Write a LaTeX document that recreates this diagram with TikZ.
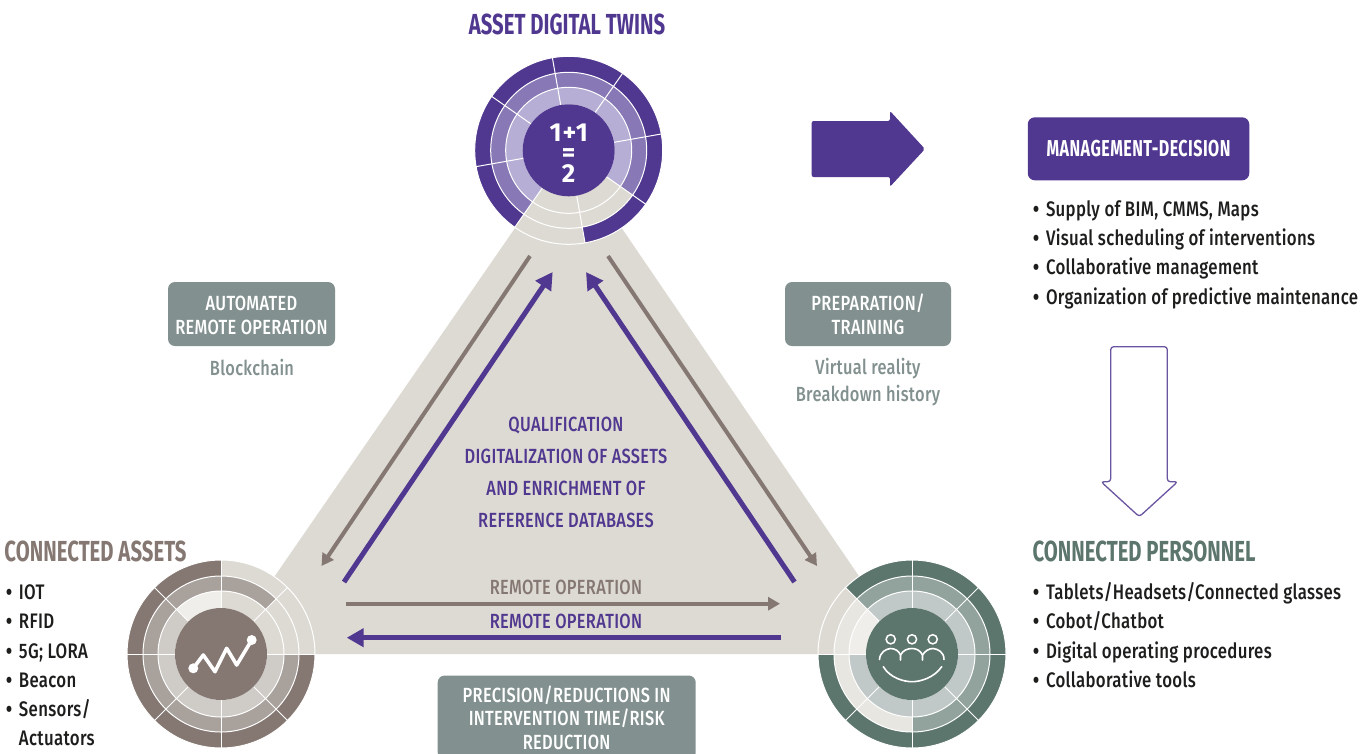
\documentclass[tikz,border=0pt]{standalone}
\usepackage{fontspec}
\setmainfont[FakeStretch=0.8,LetterSpace=1.5,UprightFont={* Medium}]{Fira Sans}
\newfontfamily\headf[FakeStretch=0.7,LetterSpace=0.1]{Fira Sans}
\newfontfamily\mgmtf[FakeStretch=0.7,LetterSpace=2]{Fira Sans}
\newfontfamily\sumf[LetterSpace=4]{Fira Sans}
\usetikzlibrary{arrows.meta}
\definecolor{purp}{HTML}{50378F}
\definecolor{purpM}{HTML}{8878B5}
\definecolor{purpL}{HTML}{B6AED5}
\definecolor{beige}{HTML}{DDDAD3}
\definecolor{taup}{HTML}{857872}
\definecolor{taupM}{HTML}{A9A19C}
\definecolor{taupL}{HTML}{CFCBC7}
\definecolor{paleA}{HTML}{EFEEEA}
\definecolor{paleB}{HTML}{E8E6E1}
\definecolor{gren}{HTML}{5C766D}
\definecolor{grenM}{HTML}{91A39C}
\definecolor{grenL}{HTML}{C1C9C8}
\definecolor{slate}{HTML}{82918F}
\definecolor{ink}{HTML}{1D1D1B}
\tikzset{
  x=1pt,y=-1pt,
  txt/.style={inner sep=0pt,outer sep=0pt,align=center,font=\fontsize{20.5}{#1}\selectfont},
  txt/.default=32,
  head/.style={inner sep=0pt,outer sep=0pt,font=\headf\fontsize{29}{30}\selectfont\bfseries},
  item/.style={inner sep=0pt,outer sep=0pt,anchor=base west,text=ink,font=\fontsize{21}{24}\selectfont},
  dotmark/.style={inner sep=0pt,outer sep=0pt,anchor=base west,text=ink,font=\fontsize{21}{24}\selectfont\bfseries},
  greybox/.style={fill=slate,rounded corners=7pt,inner sep=0pt,text=white,align=center,font=\fontsize{20.5}{23.5}\selectfont},
  thinarrow/.style={draw=taup,line width=4pt,-{Triangle[length=12pt,width=13pt]}},
  boldarrow/.style={draw=purp,line width=5pt,-{Triangle[length=17pt,width=18pt]}},
  sep/.style={draw=white,line width=1pt},
}
% ring set: centre, rotation offset, list of sector colours
\newcommand{\ringset}[4]{%
  \begin{scope}[shift={(#1,#2)},y=1pt]
    \foreach \k/\co/\cm/\ci [count=\n from 0] in {#4}{
      \pgfmathsetmacro{\aa}{#3+45*\n}
      \pgfmathsetmacro{\ab}{#3+45*\n+45}
      \fill[\co] (\aa:94) arc[start angle=\aa,end angle=\ab,radius=94] -- (\ab:78) arc[start angle=\ab,end angle=\aa,radius=78] -- cycle;
      \fill[\cm] (\aa:78) arc[start angle=\aa,end angle=\ab,radius=78] -- (\ab:63) arc[start angle=\ab,end angle=\aa,radius=63] -- cycle;
      \fill[\ci] (\aa:63) arc[start angle=\aa,end angle=\ab,radius=63] -- (\ab:46) arc[start angle=\ab,end angle=\aa,radius=46] -- cycle;
    }
    \foreach \n in {0,...,7}{
      \pgfmathsetmacro{\aa}{#3+45*\n}
      \draw[sep] (\aa:46) -- (\aa:94);
    }
    \draw[sep] (0,0) circle[radius=63];
    \draw[sep] (0,0) circle[radius=78];
    \draw[sep] (0,0) circle[radius=94];
  \end{scope}}
\begin{document}
\begin{tikzpicture}
\useasboundingbox (0,0) rectangle (1371,753);
\coordinate (topc) at (568.7,150.3);
\coordinate (leftc) at (221,654);
\coordinate (rightc) at (912,654);
% triangle
\fill[beige] (topc) -- (rightc) -- (leftc) -- cycle;
% rings
\ringset{568.7}{150.3}{10}{a/purp/purpM/purpL,b/purp/purpM/purpL,c/purp/purpM/purpL,d/purp/purpM/purpL,e/purp/purpM/purpL,f/beige/beige/beige,g/purp/beige/beige,h/purp/purpM/purpL}
\ringset{221}{654}{0}{a/beige/beige/beige,b/beige/taupM/beige,c/taup/taupM/paleA,d/taup/taupM/taupL,e/taup/taupM/taupL,f/taup/taupM/taupL,g/taup/taupM/taupL,h/taup/taupM/taupL}
\ringset{912}{654}{0}{a/gren/grenM/grenL,b/gren/grenM/grenL,c/gren/grenM/grenL,d/beige/paleB/paleA,e/gren/paleB/grenL,f/gren/paleB/grenL,g/gren/grenM/grenL,h/gren/grenM/grenL}
% hubs
\node[circle,fill=purp,minimum size=92pt,inner sep=0pt] (hubT) at (topc) {};
\node[circle,fill=taup,minimum size=92pt,inner sep=0pt] (hubL) at (leftc) {};
\node[circle,fill=gren,minimum size=92pt,inner sep=0pt] (hubR) at (rightc) {};
\node[inner sep=0pt,text=white,align=center,font=\sumf\fontsize{26}{20.3}\selectfont\bfseries] (sum) at (568.7,153) {1+1\\=\\2};
% chart icon
\draw[white,line width=3.6pt,line join=round] (193.3,668.3) -- (203.3,655) -- (215,671.7) -- (226.7,648.3) -- (236.7,665) -- (251.7,640);
\fill[white] (193.3,668.3) circle[radius=5];
\fill[white] (251.7,640) circle[radius=5];
% people icon
\foreach \px in {890.7,912,932.7}{\draw[white,line width=1.5pt] (\px,639.3) circle[radius=4.6];}
\draw[white,line width=1.6pt,line cap=round] (879.5,659.5) .. controls (880,652) and (886,649) .. (890.5,648.5) .. controls (895,648.5) and (899,651) .. (900.5,655) -- (900.5,660);
\draw[white,line width=1.6pt,line cap=round] (900.5,655) .. controls (903,650) and (908,648.5) .. (912,648.5) .. controls (916,648.5) and (920,650) .. (922.5,655) -- (922.5,660);
\draw[white,line width=1.6pt,line cap=round] (922.5,655) .. controls (925,651) and (929,648.5) .. (933,648.5) .. controls (938,649) and (944,652) .. (944,659.5);
\draw[white,line width=1.6pt,line cap=round] (883.3,666.7) .. controls (890,678) and (904,681.7) .. (912,681.7) .. controls (920,681.7) and (934,678) .. (941.7,666.7);
% arrows
\coordinate (g1a) at (530,256); \coordinate (g1b) at (321.5,566);
\coordinate (p1a) at (344,582); \coordinate (p1b) at (552.7,272);
\coordinate (g2a) at (608,256); \coordinate (g2b) at (817,566);
\coordinate (p2a) at (794.5,582); \coordinate (p2b) at (586,272);
\coordinate (g3a) at (346,603.7); \coordinate (g3b) at (780,603.7);
\coordinate (p3a) at (781,637.7); \coordinate (p3b) at (346.7,637.7);
\draw[thinarrow] (g1a) -- (g1b);
\draw[boldarrow] (p1a) -- (p1b);
\draw[thinarrow] (g2a) -- (g2b);
\draw[boldarrow] (p2a) -- (p2b);
\draw[thinarrow] (g3a) -- (g3b);
\draw[boldarrow] (p3a) -- (p3b);
% block arrows
\fill[purp,rounded corners=2pt] (811.7,121) -- (890,121) -- (890,111) -- (925,149) -- (890,186.7) -- (890,177) -- (811.7,177) -- cycle;
\draw[purp!85!white,line width=1.3pt,rounded corners=3pt] (1110.7,346.7) -- (1167.3,346.7) -- (1167.3,481.7) -- (1177.7,481.7) -- (1139.3,516.7) -- (1101,481.7) -- (1110.7,481.7) -- cycle;
% headings
\node[head,text=purp] (hT) at (567,24.5) {ASSET DIGITAL TWINS};
\node[head,text=taup,anchor=base west] (hL) at (4.5,561.5) {CONNECTED ASSETS};
\node[head,text=gren,anchor=base west] (hR) at (1032.5,561.5) {CONNECTED PERSONNEL};
% boxes
\node[fill=purp,rounded corners=7pt,minimum width=221.5pt,minimum height=63pt,inner sep=0pt,text=white,font=\mgmtf\fontsize{23}{26}\selectfont\bfseries] (mgmt) at (1138.5,148.8) {\raisebox{-1.5pt}{MANAGEMENT-DECISION}};
\node[greybox,minimum width=167pt,minimum height=64pt] (auto) at (251.5,314) {\rule{0pt}{17pt}AUTOMATED\\REMOTE OPERATION};
\node[greybox,minimum width=166pt,minimum height=64pt] (prep) at (868,314) {\rule{0pt}{17pt}PREPARATION/\\TRAINING};
\node[greybox,minimum width=258pt,minimum height=84pt] (prec) at (566.7,717.5) {PRECISION/REDUCTIONS IN\\INTERVENTION TIME/RISK\\REDUCTION};
% side labels
\node[txt=27,text=slate] (chainl) at (252,367) {Blockchain};
\node[txt=27,text=slate] (vr) at (868,382) {Virtual reality\\Breakdown history};
% centre texts
\node[txt=32,text=purp] (qual) at (566,472) {QUALIFICATION\\DIGITALIZATION OF ASSETS\\AND ENRICHMENT OF\\REFERENCE DATABASES};
\node[txt,text=taup] (rg) at (566,587) {REMOTE OPERATION};
\node[txt,text=purp] (rp) at (566,621) {REMOTE OPERATION};
% lists
\foreach \nm/\yy/\lbl in {a/216/{Supply of BIM, CMMS, Maps},b/245/{Visual scheduling of interventions},c/274.5/{Collaborative management},d/304/{Organization of predictive maintenance}}{
  \node[dotmark] (mb\nm) at (1033,\yy) {•};
  \node[item] (mt\nm) at (1046,\yy) {\lbl};
}
\foreach \nm/\yy/\lbl in {a/599/{Tablets/Headsets/Connected glasses},b/628/{Cobot/Chatbot},c/658/{Digital operating procedures},d/687.5/{Collaborative tools}}{
  \node[dotmark] (pb\nm) at (1033,\yy) {•};
  \node[item] (pt\nm) at (1046,\yy) {\lbl};
}
\foreach \nm/\yy/\lbl in {a/599/{IOT},b/628/{RFID},c/658/{5G; LORA},d/687.5/{Beacon},e/716.5/{Sensors/}}{
  \node[dotmark] (ab\nm) at (6,\yy) {•};
  \node[item] (at\nm) at (19,\yy) {\lbl};
}
\node[item] (atf) at (19,745.5) {Actuators};
\end{tikzpicture}
\end{document}
